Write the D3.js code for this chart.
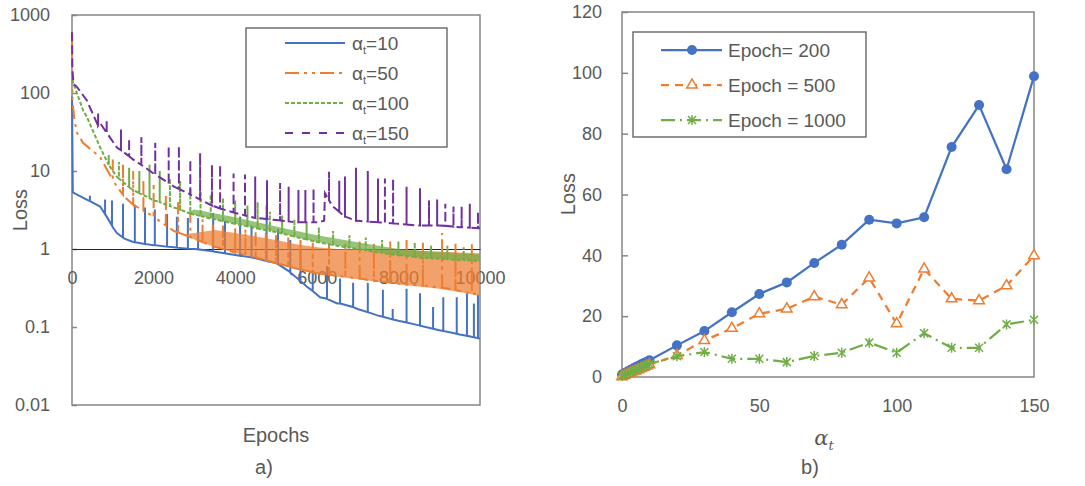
<!DOCTYPE html>
<html>
<head>
<meta charset="utf-8">
<script src="https://cdn.jsdelivr.net/npm/d3@7"></script>
<style>
body { margin: 0; background: #fff; }
text { font-family: "Liberation Sans", Arial, sans-serif; fill: #595959; }
</style>
</head>
<body>
<div id="chart"></div>
<script>
// ---------- data: panel a) ----------
var epochTicks = [0, 2000, 4000, 6000, 8000, 10000];
var lossTicks = [0.01, 0.1, 1, 10, 100, 1000];
var alphaNames = ["10", "50", "100", "150"];

// baseline [epoch, loss]
var base10 = [[0, 90], [20, 5.3], [360, 4.3], [690, 3.5], [850, 2.6], [1000, 1.9], [1100, 1.6], [1300, 1.35], [1500, 1.23], [2000, 1.12], [2500, 1.05], [3000, 1.0], [3500, 0.92], [4000, 0.84], [4500, 0.76], [5000, 0.66], [5340, 0.51], [5750, 0.33], [6080, 0.24], [6500, 0.2], [7000, 0.17], [7500, 0.14], [8000, 0.12], [8500, 0.105], [9000, 0.091], [9500, 0.08], [10000, 0.071]];
var base50 = [[0, 550], [10, 80], [60, 45], [120, 31], [270, 23], [690, 15], [900, 9.5], [1100, 6.3], [1300, 4.6], [1500, 3.7], [2000, 2.6], [2500, 1.7], [3000, 1.35], [3500, 1.07], [4000, 0.9], [4500, 0.78], [5000, 0.66], [5500, 0.56], [6000, 0.49], [6500, 0.45], [7000, 0.42], [7500, 0.39], [8000, 0.36], [8500, 0.34], [9000, 0.32], [9500, 0.29], [10000, 0.26]];
var base100 = [[0, 150], [120, 100], [270, 60], [360, 50], [690, 20], [900, 12], [1100, 8.4], [1500, 5.7], [2000, 4.2], [2500, 3.4], [3000, 2.75], [3500, 2.4], [4000, 2.1], [4500, 1.85], [5000, 1.65], [5500, 1.42], [6000, 1.23], [6500, 1.1], [7000, 1.0], [7500, 0.9], [8000, 0.83], [8500, 0.78], [9000, 0.75], [9500, 0.72], [10000, 0.7]];
var base150 = [[0, 600], [8, 200], [40, 130], [120, 120], [360, 81], [690, 41], [1100, 20], [1500, 14], [2000, 9.3], [2500, 6.3], [3000, 4.7], [3500, 3.5], [4000, 2.9], [4500, 2.5], [5000, 2.35], [5500, 2.2], [6000, 2.2], [6180, 2.3], [6200, 5.2], [6400, 3.5], [6700, 2.6], [7000, 2.3], [7500, 2.2], [8000, 2.1], [8500, 2.0], [9000, 2.0], [9500, 1.9], [10000, 1.85]];

// spikes [epoch, low, high]
var spikes10 = [[440, 4.1, 4.8], [810, 2.8, 4.3], [980, 2.0, 4.2], [1250, 1.4, 3.8], [1540, 1.22, 3.7], [1790, 1.16, 3.4], [2030, 1.12, 3.2], [2330, 1.07, 2.8], [2570, 1.04, 2.6], [2840, 1.01, 2.5], [3090, 0.99, 2.5], [3460, 0.93, 2.9], [3750, 0.88, 2.3], [4120, 0.82, 2.6], [4400, 0.78, 2.0], [4770, 0.7, 3.6], [5050, 0.64, 1.8], [5350, 0.5, 1.3], [5600, 0.39, 1.0], [5900, 0.29, 0.5], [6250, 0.23, 0.6], [6570, 0.2, 0.42], [6890, 0.18, 0.37], [7250, 0.155, 0.37], [7620, 0.135, 0.3], [7860, 0.125, 0.17], [8200, 0.114, 0.31], [8530, 0.104, 0.27], [8850, 0.095, 0.18], [9100, 0.089, 0.24], [9430, 0.082, 0.24], [9680, 0.077, 0.27], [9850, 0.074, 0.2], [9950, 0.072, 0.26]];
var spikes50 = [[1000, 7.7, 14], [1250, 5, 12], [1500, 3.7, 10], [1750, 3.1, 8], [2000, 2.6, 7], [2300, 2.0, 5], [2600, 1.63, 4], [2900, 1.42, 3], [3200, 1.22, 2.4], [3450, 1.1, 2.2], [3700, 1.0, 2.0], [4000, 0.9, 1.9], [4250, 0.84, 1.8], [4500, 0.78, 1.7], [4750, 0.72, 1.6], [5000, 0.66, 1.5], [5300, 0.6, 1.4], [5600, 0.55, 1.3], [5900, 0.5, 1.2], [6300, 0.47, 1.15], [6700, 0.44, 1.2], [7050, 0.42, 1.25], [7400, 0.39, 1.2], [7800, 0.37, 1.25], [8200, 0.35, 1.3], [8600, 0.34, 1.2], [9070, 0.32, 1.6], [9400, 0.3, 1.2], [9800, 0.27, 1.15]];
var spikes100 = [[900, 12, 16], [1150, 8, 13], [1400, 6.2, 11], [1650, 5.2, 10], [1900, 4.5, 12], [2150, 4.0, 10], [2400, 3.55, 8], [2650, 3.2, 7.5], [2900, 2.85, 6], [3150, 2.65, 5.5], [3400, 2.45, 5], [3700, 2.27, 4.5], [4000, 2.1, 4.2], [4300, 1.95, 3.6], [4550, 1.83, 4.0], [4850, 1.7, 3.0], [5150, 1.58, 2.7], [5450, 1.44, 2.4], [5750, 1.33, 2.2], [6050, 1.22, 1.9], [6400, 1.12, 1.7], [6800, 1.04, 1.5], [7200, 0.96, 1.4], [7600, 0.89, 1.3], [8000, 0.84, 1.25], [8400, 0.79, 1.2], [8800, 0.76, 1.1], [9200, 0.74, 1.1], [9600, 0.72, 1.05]];
var spikes150 = [[640, 38, 55], [850, 31, 45], [1200, 18.5, 34], [1400, 15.5, 26], [1700, 12, 27], [2040, 9, 23], [2370, 7, 21], [2620, 5.9, 21], [2900, 5, 14], [3140, 4.3, 17], [3430, 3.6, 12], [3630, 3.3, 12], [3960, 2.95, 9.3], [4240, 2.7, 9], [4490, 2.5, 8.5], [4780, 2.42, 7.6], [5100, 2.32, 7], [5310, 2.26, 6.3], [5550, 2.2, 5.7], [5720, 2.2, 5.7], [5920, 2.2, 6], [6300, 4.2, 9.8], [6550, 3.0, 7.5], [6690, 2.6, 8.5], [6960, 2.3, 11], [7250, 2.25, 10], [7500, 2.2, 8], [7670, 2.18, 8], [7870, 2.13, 8], [8200, 2.06, 6.3], [8530, 2.0, 6], [8750, 2.0, 4.2], [8950, 2.0, 4.3], [9150, 1.98, 3.8], [9350, 1.94, 3.5], [9550, 1.9, 3.5], [9750, 1.88, 3.8], [9950, 1.85, 3.0]];

// noisy bands [epoch, low, high]
var band50 = [[2700, 1.55, 1.55], [3000, 1.32, 1.6], [3500, 1.06, 1.75], [4000, 0.89, 1.6], [4500, 0.77, 1.45], [5000, 0.65, 1.3], [5500, 0.55, 1.15], [6000, 0.48, 1.05], [6500, 0.44, 1.0], [7000, 0.41, 1.0], [7500, 0.38, 0.98], [8000, 0.35, 0.97], [8500, 0.33, 0.95], [9000, 0.31, 0.93], [9500, 0.28, 0.9], [10000, 0.25, 0.88]];
var band100 = [[2800, 2.9, 2.9], [3000, 2.75, 3.2], [4000, 2.1, 2.55], [5000, 1.65, 1.95], [6000, 1.23, 1.5], [7000, 1.0, 1.22], [8000, 0.83, 1.0], [9000, 0.75, 0.91], [10000, 0.7, 0.85]];

// ---------- data: panel b) ----------
var alphaVals = [0, 1, 2, 3, 4, 5, 6, 7, 8, 9, 10, 20, 30, 40, 50, 60, 70, 80, 90, 100, 110, 120, 130, 140, 150];
var loss200 = [0.8, 1.3, 1.8, 2.3, 2.8, 3.3, 3.7, 4.2, 4.6, 5.0, 5.5, 10.4, 15.1, 21.3, 27.3, 31.1, 37.5, 43.5, 51.7, 50.5, 52.5, 75.6, 89.4, 68.3, 98.9];
var loss500 = [0.1, 0.5, 0.9, 1.3, 1.7, 2.0, 2.4, 2.8, 3.2, 3.6, 4.0, 7.1, 12, 16, 20.8, 22.4, 26.4, 23.8, 32.6, 17.5, 35.5, 25.7, 25.1, 30, 39.9];
var loss1000 = [0.3, 0.7, 1.1, 1.5, 1.9, 2.3, 2.7, 3.1, 3.5, 3.9, 4.3, 6.8, 8.2, 6, 6, 4.9, 6.9, 8, 11.3, 8, 14.4, 9.6, 9.6, 17.3, 18.8];
var alphaTicks = [0, 50, 100, 150];
var lossTicksB = [0, 20, 40, 60, 80, 100, 120];
var epochNames = ["Epoch= 200", "Epoch = 500", "Epoch = 1000"];

var blue = "#4472c4", orange = "#ed7d31", green = "#70ad47", purple = "#7030a0";

var svg = d3.select("#chart").append("svg")
    .attr("width", 1085)
    .attr("height", 486);

// ================= panel a) =================
var xA = d3.scaleLinear().domain([0, 10000]).range([72, 480]);
var yA = d3.scaleLog().domain([0.01, 1000]).range([405, 15]);

svg.append("clipPath").attr("id", "clipA").append("rect")
    .attr("x", 70).attr("y", 13).attr("width", 412).attr("height", 394);

svg.append("rect")
    .attr("x", 72).attr("y", 15).attr("width", 408).attr("height", 390)
    .attr("fill", "#fff").attr("stroke", "#868686").attr("stroke-width", 1.5);

var yAxisA = svg.append("g")
    .attr("transform", "translate(72,0)")
    .call(d3.axisLeft(yA).tickValues(lossTicks).tickSizeInner(-5).tickSizeOuter(0).tickPadding(22)
        .tickFormat(function(d) { return String(d); }));
yAxisA.select(".domain").remove();

var xAxisA = svg.append("g")
    .attr("transform", "translate(0," + yA(1) + ")")
    .call(d3.axisBottom(xA).tickValues(epochTicks).tickSize(0).tickPadding(22)
        .tickFormat(function(d) { return String(d); }));

svg.selectAll(".tick line").attr("stroke", "#868686").attr("stroke-width", 1.5);
svg.selectAll(".tick text").style("font-size", "18px").attr("fill", "#595959");
xAxisA.select(".domain").attr("stroke", "#262626").attr("stroke-width", 1.2);

// series
function trace(base, spikes) {
    var pts = base.map(function(d) { return { e: d[0], v: d[1], k: 0 }; });
    spikes.forEach(function(s) {
        pts.push({ e: s[0], v: s[1], k: 1 }, { e: s[0], v: s[2], k: 2 }, { e: s[0], v: s[1], k: 3 });
    });
    pts.sort(function(a, b) { return a.e - b.e || a.k - b.k; });
    return pts;
}

var lineA = d3.line()
    .x(function(d) { return xA(d.e); })
    .y(function(d) { return yA(d.v); });

var areaA = d3.area()
    .x(function(d) { return xA(d[0]); })
    .y0(function(d) { return yA(d[1]); })
    .y1(function(d) { return yA(d[2]); });

var seriesA = [
    { base: base10, spikes: spikes10, band: null, color: blue, dash: null },
    { base: base50, spikes: spikes50, band: band50, color: orange, dash: "14,5,3,5,3,5" },
    { base: base100, spikes: spikes100, band: band100, color: green, dash: "4,2" },
    { base: base150, spikes: spikes150, band: null, color: purple, dash: "9,4" }
];

var plotA = svg.append("g").attr("clip-path", "url(#clipA)");
seriesA.forEach(function(s) {
    if (s.band) {
        plotA.append("path")
            .datum(s.band)
            .attr("d", areaA)
            .attr("fill", s.color)
            .attr("opacity", 0.72);
    }
    plotA.append("path")
        .datum(trace(s.base, s.spikes))
        .attr("d", lineA)
        .attr("fill", "none")
        .attr("stroke", s.color)
        .attr("stroke-width", 2)
        .attr("stroke-dasharray", s.dash);
});

// legend a)
var legA = svg.append("g");
legA.append("rect")
    .attr("x", 246).attr("y", 28).attr("width", 201).attr("height", 119)
    .attr("fill", "#fff").attr("stroke", "#595959").attr("stroke-width", 1.3);
seriesA.forEach(function(s, i) {
    var ly = 43 + i * 30;
    legA.append("line")
        .attr("x1", 285).attr("x2", 345).attr("y1", ly).attr("y2", ly)
        .attr("stroke", s.color).attr("stroke-width", 2)
        .attr("stroke-dasharray", i === 3 ? "8,9" : s.dash);
    var t = legA.append("text")
        .attr("x", 352).attr("y", ly + 6.5)
        .style("font-size", "19px");
    t.append("tspan").text("α");
    t.append("tspan").attr("dy", 4).style("font-size", "11px").text("t");
    t.append("tspan").attr("dy", -4).text("=" + alphaNames[i]);
});

svg.append("text")
    .attr("transform", "translate(27,210) rotate(-90)")
    .attr("text-anchor", "middle")
    .style("font-size", "20px")
    .text("Loss");
svg.append("text")
    .attr("x", 276).attr("y", 442)
    .attr("text-anchor", "middle")
    .style("font-size", "20px")
    .text("Epochs");
svg.append("text")
    .attr("x", 264).attr("y", 474)
    .attr("text-anchor", "middle")
    .style("font-size", "20px")
    .attr("fill", "#262626")
    .text("a)");

// ================= panel b) =================
var xB = d3.scaleLinear().domain([0, 150]).range([622, 1034]);
var yB = d3.scaleLinear().domain([0, 120]).range([377, 12]);

svg.append("rect")
    .attr("x", 622).attr("y", 12).attr("width", 412).attr("height", 365)
    .attr("fill", "#fff").attr("stroke", "#868686").attr("stroke-width", 1.5);

var yAxisB = svg.append("g")
    .attr("transform", "translate(622,0)")
    .call(d3.axisLeft(yB).tickValues(lossTicksB).tickSizeInner(-6).tickSizeOuter(0).tickPadding(20));
yAxisB.select(".domain").remove();

var xAxisB = svg.append("g")
    .attr("transform", "translate(0,377)")
    .call(d3.axisBottom(xB).tickValues(alphaTicks).tickSize(0).tickPadding(22));
xAxisB.select(".domain").remove();

yAxisB.selectAll(".tick line").attr("stroke", "#868686").attr("stroke-width", 1.5);
yAxisB.selectAll(".tick text").style("font-size", "18px").attr("fill", "#595959");
xAxisB.selectAll(".tick text").style("font-size", "18px").attr("fill", "#595959");

var asterisk = "M-4,-4L4,4M-4,4L4,-4M0,-5L0,5";
var seriesB = [
    { values: loss200, color: blue, dash: null, marker: "circle" },
    { values: loss500, color: orange, dash: "8,6", marker: "triangle" },
    { values: loss1000, color: green, dash: "14,5,2,5", marker: "star" }
];

function drawMarker(g, type, color, x, y) {
    if (type === "circle") {
        g.append("circle").attr("cx", x).attr("cy", y).attr("r", 5).attr("fill", color);
    } else if (type === "triangle") {
        g.append("path")
            .attr("transform", "translate(" + x + "," + y + ")")
            .attr("d", d3.symbol(d3.symbolTriangle).size(48)())
            .attr("fill", "#fff").attr("stroke", color).attr("stroke-width", 1.5);
    } else {
        g.append("path")
            .attr("transform", "translate(" + x + "," + y + ")")
            .attr("d", asterisk)
            .attr("fill", "none").attr("stroke", color).attr("stroke-width", 1.5);
    }
}

var lineB = d3.line()
    .x(function(d, i) { return xB(alphaVals[i]); })
    .y(function(d) { return yB(d); });

seriesB.forEach(function(s) {
    var g = svg.append("g");
    g.append("path")
        .datum(s.values)
        .attr("d", lineB)
        .attr("fill", "none")
        .attr("stroke", s.color)
        .attr("stroke-width", 2.25)
        .attr("stroke-dasharray", s.dash);
    s.values.forEach(function(d, i) {
        drawMarker(g, s.marker, s.color, xB(alphaVals[i]), yB(d));
    });
});

// legend b)
var legB = svg.append("g");
legB.append("rect")
    .attr("x", 633).attr("y", 32).attr("width", 233).attr("height", 105)
    .attr("fill", "#fff").attr("stroke", "#595959").attr("stroke-width", 1.3);
seriesB.forEach(function(s, i) {
    var ly = 50 + i * 35;
    legB.append("line")
        .attr("x1", 661).attr("x2", 722).attr("y1", ly).attr("y2", ly)
        .attr("stroke", s.color).attr("stroke-width", 2.25)
        .attr("stroke-dasharray", s.dash);
    drawMarker(legB, s.marker, s.color, 692, ly);
    legB.append("text")
        .attr("x", 728).attr("y", ly + 6.5)
        .style("font-size", "19px")
        .text(epochNames[i]);
});

svg.append("text")
    .attr("transform", "translate(575,194) rotate(-90)")
    .attr("text-anchor", "middle")
    .style("font-size", "20px")
    .text("Loss");
var at = svg.append("text")
    .attr("x", 824).attr("y", 445)
    .attr("text-anchor", "middle")
    .style("font-family", "'DejaVu Serif', 'Liberation Serif', serif")
    .style("font-style", "italic")
    .style("font-size", "21px");
at.append("tspan").text("α");
at.append("tspan").attr("dy", 5).style("font-size", "13px").text("t");
svg.append("text")
    .attr("x", 810).attr("y", 474)
    .attr("text-anchor", "middle")
    .style("font-size", "20px")
    .attr("fill", "#262626")
    .text("b)");
</script>
</body>
</html>
